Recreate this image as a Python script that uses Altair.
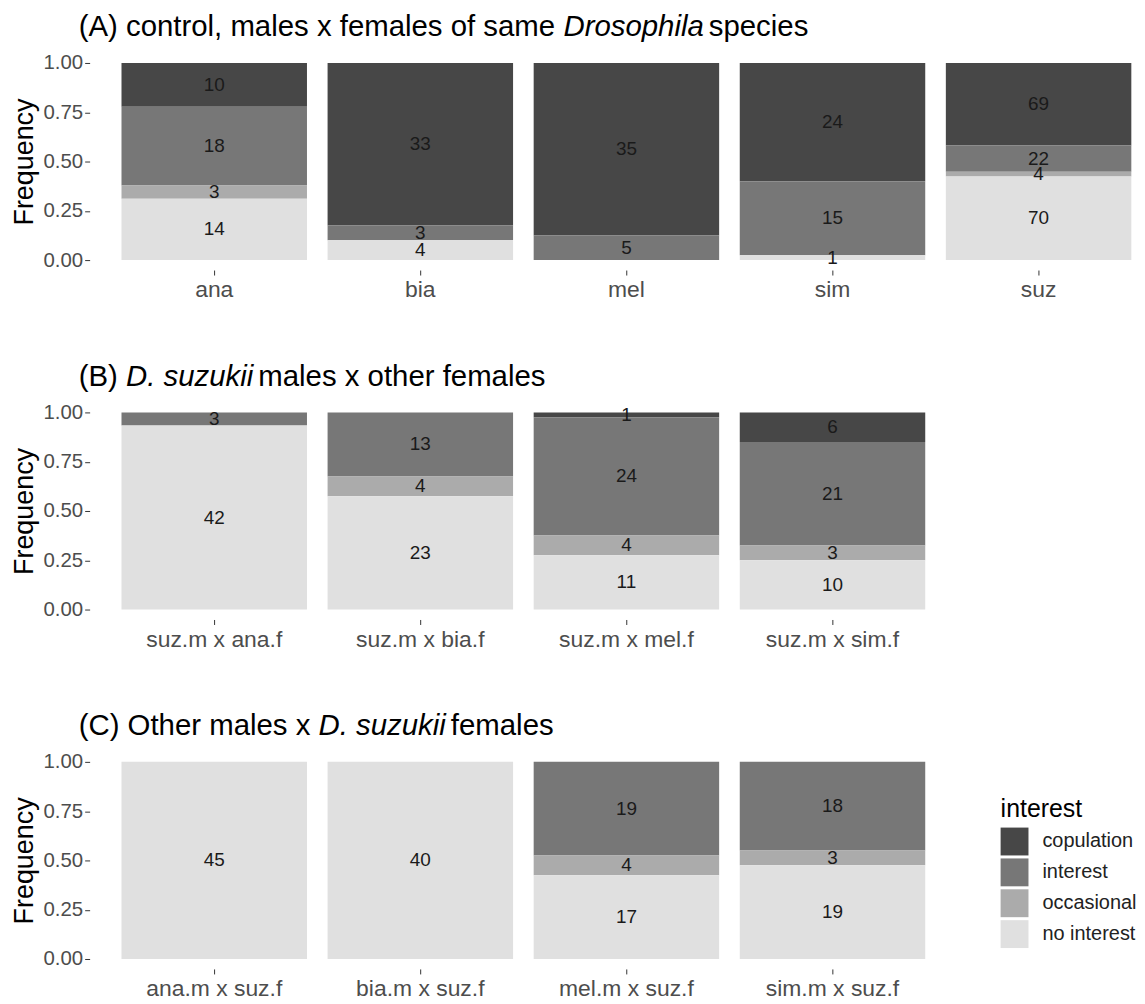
import altair as alt
import pandas as pd

LEVELS = ["copulation", "interest", "occasional", "no interest"]
COLORS = ["#474747", "#777777", "#ababab", "#e0e0e0"]

A_groups = ["ana", "bia", "mel", "sim", "suz"]
A_copulation = [10, 33, 35, 24, 69]
A_interest = [18, 3, 5, 15, 22]
A_occasional = [3, 0, 0, 0, 4]
A_no_interest = [14, 4, 0, 1, 70]

B_groups = ["suz.m x ana.f", "suz.m x bia.f", "suz.m x mel.f", "suz.m x sim.f"]
B_copulation = [0, 0, 1, 6]
B_interest = [3, 13, 24, 21]
B_occasional = [0, 4, 4, 3]
B_no_interest = [42, 23, 11, 10]

C_groups = ["ana.m x suz.f", "bia.m x suz.f", "mel.m x suz.f", "sim.m x suz.f"]
C_copulation = [0, 0, 0, 0]
C_interest = [0, 0, 19, 18]
C_occasional = [0, 0, 4, 3]
C_no_interest = [45, 40, 17, 19]

A_title = [("(A) control, males x females of same ", False), ("Drosophila", True), (" species", False)]
B_title = [("(B) ", False), ("D. suzukii", True), (" males x other females", False)]
C_title = [("(C) Other males x ", False), ("D. suzukii", True), (" females", False)]

FONT = "Liberation Sans"
TITLE_SIZE = 29.5
STEP = 207
PAD_INNER = 0.1
PLOT_H = 198

# Arial / Liberation Sans advance widths (per 1000 em) for title layout
W = {'(': 333, ')': 333, 'A': 667, 'B': 667, 'C': 722, ' ': 278, 'c': 500, 'o': 556,
     'n': 556, 't': 278, 'r': 333, 'l': 222, ',': 278, 'm': 833, 'a': 556, 'e': 556,
     's': 500, 'x': 500, 'f': 278, 'D': 722, 'p': 556, 'h': 556, 'i': 222, '.': 278,
     'u': 556, 'z': 500, 'k': 500, 'O': 778}


def tw(s, size):
    return sum(W.get(ch, 556) for ch in s) * size / 1000.0


def title_layers(parts):
    layers = []
    x = -43.0
    for txt, ital in parts:
        layers.append(
            alt.Chart(alt.Data(values=[{"k": 0}])).mark_text(
                text=txt, align="left", baseline="alphabetic", font=FONT,
                fontSize=TITLE_SIZE, fontStyle="italic" if ital else "normal",
                color="black"
            ).encode(x=alt.value(x), y=alt.value(-27))
        )
        x += tw(txt, TITLE_SIZE) + (5 if ital else 0)
    return layers


def panel(groups, cop, inte, occ, noi, parts, legend=None):
    rows = []
    for g, vals in zip(groups, zip(cop, inte, occ, noi)):
        for lvl, v in zip(LEVELS, vals):
            if v > 0:
                rows.append({"group": g, "interest": lvl, "count": v,
                             "order": 3 - LEVELS.index(lvl)})
    df = pd.DataFrame(rows)
    base = alt.Chart(df).transform_stack(
        stack="count", groupby=["group"], as_=["y0", "y1"], offset="normalize",
        sort=[alt.SortField("order", order="ascending")]
    ).transform_calculate(mid="(datum.y0 + datum.y1) / 2")

    xenc = alt.X("group:N", sort=groups, title=None,
                 scale=alt.Scale(paddingInner=PAD_INNER, paddingOuter=0),
                 axis=alt.Axis(labelAngle=0, labelFontSize=23, labelColor="#4d4d4d",
                               labelPadding=4, tickSize=5, tickColor="#333333",
                               offset=10, domain=False, grid=False, labelFont=FONT))
    yaxis = alt.Axis(values=[0, 0.25, 0.5, 0.75, 1], format=".2f", title="Frequency",
                     titleFontSize=27, titleFontWeight="normal", titleColor="black",
                     titlePadding=4, labelFontSize=20.5, labelColor="#4d4d4d",
                     labelPadding=2, tickSize=5, tickColor="#333333", offset=32,
                     domain=False, grid=False, labelFont=FONT, titleFont=FONT)
    bars = base.mark_bar().encode(
        x=xenc,
        y=alt.Y("y0:Q", scale=alt.Scale(domain=[0, 1], nice=False), axis=yaxis),
        y2="y1:Q",
        color=alt.Color("interest:N", scale=alt.Scale(domain=LEVELS, range=COLORS),
                        legend=legend),
    )
    text = base.mark_text(fontSize=19, color="#1a1a1a", font=FONT,
                          baseline="middle", align="center").encode(
        x=alt.X("group:N", sort=groups),
        y=alt.Y("mid:Q"),
        text="count:Q",
    )
    width = STEP * (len(groups) - PAD_INNER)
    return alt.layer(bars, text, *title_layers(parts)).properties(
        width=width, height=PLOT_H)


legC = alt.Legend(orient="none", legendX=883, legendY=35, title="interest",
                  titleFontSize=25, titleFontWeight="normal", titleColor="black",
                  titleFont=FONT, titlePadding=6, labelFont=FONT, labelFontSize=20,
                  labelColor="#222222", labelOffset=14, symbolType="square",
                  symbolSize=784, symbolStrokeWidth=0, symbolOpacity=1, rowPadding=3,
                  padding=0)

pA = panel(A_groups, A_copulation, A_interest, A_occasional, A_no_interest, A_title)
pB = panel(B_groups, B_copulation, B_interest, B_occasional, B_no_interest, B_title)
pC = panel(C_groups, C_copulation, C_interest, C_occasional, C_no_interest, C_title,
           legend=legC)

chart = alt.vconcat(pA, pB, pC, spacing=60).resolve_scale(
    color="independent", x="independent"
).properties(
    padding={"left": 3, "top": 2, "right": 0, "bottom": 0}
).configure(font=FONT).configure_view(stroke=None)

chart.save("out.html", embed_options={"renderer": "svg", "actions": False})
